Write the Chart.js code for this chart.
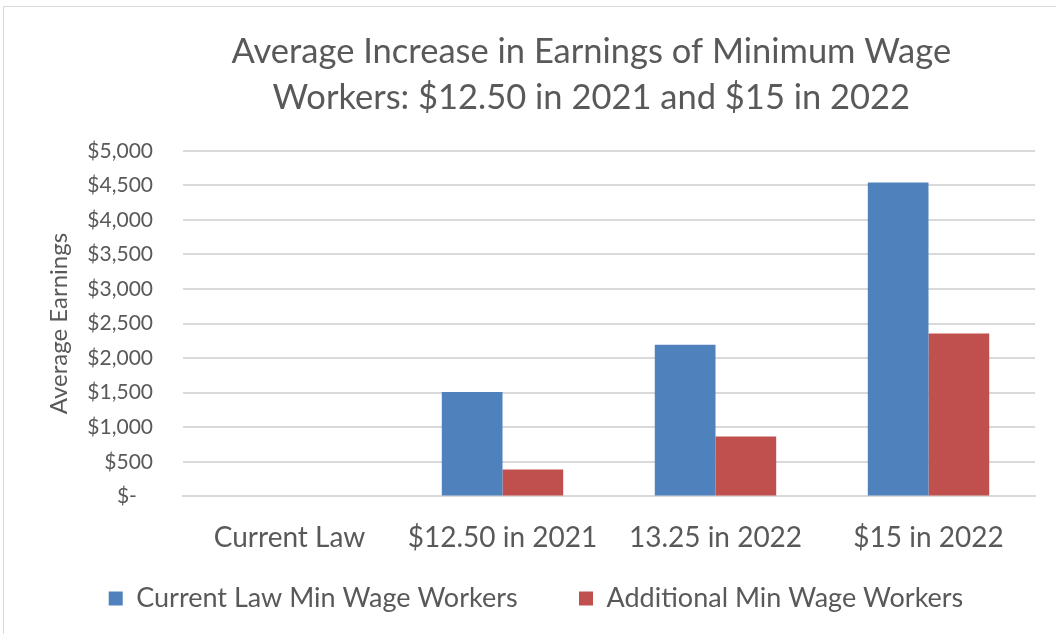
<!DOCTYPE html>
<html>
<head>
<meta charset="utf-8">
<script src="https://cdn.jsdelivr.net/npm/chart.js@4"></script>
<style>
  body { margin: 0; background: #fff; overflow: hidden; }
  #frame { position: absolute; left: 3px; top: 6px; width: 1060px; height: 640px; border: 1px solid #d9d9d9; box-sizing: border-box; }
  #wrap { position: absolute; left: 0; top: 0; width: 1056px; height: 634px; }
</style>
</head>
<body>
<div id="frame"></div>
<div id="wrap"><canvas id="wageChart"></canvas></div>
<script>
const categories = ['Current Law', '$12.50 in 2021', '13.25 in 2022', '$15 in 2022'];
const currentLawWorkers = [0, 1510, 2195, 4540];
const additionalWorkers = [0, 390, 865, 2355];
const yTicks = [0, 500, 1000, 1500, 2000, 2500, 3000, 3500, 4000, 4500, 5000];

const font = 'Lato, "Open Sans", sans-serif';
const grey = '#595959';

// Chart for minimum wage earnings
const ctx = document.getElementById('wageChart').getContext('2d');
new Chart(ctx, {
  type: 'bar',
  data: {
    labels: categories,
    datasets: [{
      label: 'Current Law Min Wage Workers',
      data: currentLawWorkers,
      backgroundColor: '#4f81bd',
      barPercentage: 1,
      categoryPercentage: 0.57
    }, {
      label: 'Additional Min Wage Workers',
      data: additionalWorkers,
      backgroundColor: '#c0504d',
      barPercentage: 1,
      categoryPercentage: 0.57
    }]
  },
  options: {
    responsive: true,
    maintainAspectRatio: false,
    animation: false,
    layout: { padding: { left: 37, right: 21, top: 29, bottom: 12 } },
    plugins: {
      title: {
        display: true,
        fullSize: false,
        text: ['Average Increase in Earnings of Minimum Wage    ', 'Workers: $12.50 in 2021 and $15 in 2022    '],
        color: grey,
        font: { family: font, size: 34.5, weight: 'normal', lineHeight: 1.33 },
        padding: { top: 0, bottom: 30 }
      },
      legend: {
        position: 'bottom',
        labels: {
          color: grey,
          font: { family: font, size: 27 },
          boxWidth: 14,
          boxHeight: 14,
          padding: 13,
          generateLabels: chart => Chart.defaults.plugins.legend.labels.generateLabels(chart)
            .map((item, i) => ({ ...item, text: i === 0 ? item.text + '       ' : item.text }))
        }
      },
      tooltip: { enabled: false }
    },
    scales: {
      x: {
        grid: { display: false },
        border: { color: '#d9d9d9', width: 2 },
        ticks: { color: grey, font: { family: font, size: 28 }, padding: 17 }
      },
      y: {
        min: 0,
        max: 5000,
        afterBuildTicks: axis => { axis.ticks = yTicks.map(v => ({ value: v })); },
        afterFit: axis => { axis.width = 146; },
        grid: { color: '#d9d9d9', lineWidth: 2, drawTicks: false },
        border: { display: false },
        title: {
          display: true,
          text: 'Average Earnings',
          color: grey,
          font: { family: font, size: 24 },
          padding: 8
        },
        ticks: {
          color: grey,
          font: { family: font, size: 21 },
          padding: 30,
          callback: v => v === 0 ? '$-   ' : '$' + v.toLocaleString('en-US')
        }
      }
    }
  }
});
</script>
</body>
</html>
